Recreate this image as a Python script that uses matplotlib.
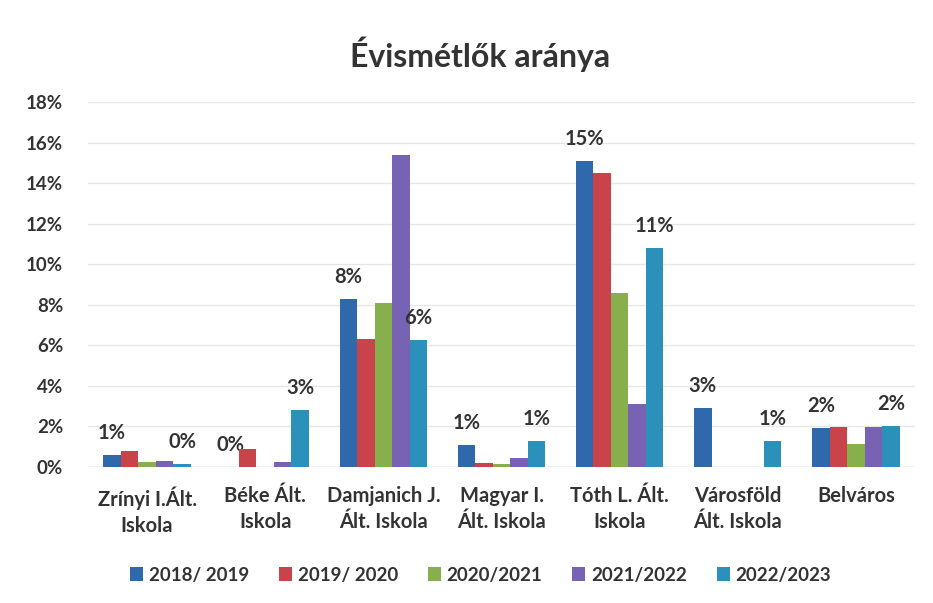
import numpy as np
import matplotlib
matplotlib.use('Agg')
import matplotlib.pyplot as plt
from matplotlib.ticker import FuncFormatter

plt.rcParams['font.family'] = ['Lato', 'DejaVu Sans']

iskolak = ['Zrínyi I.Ált.\nIskola', 'Béke Ált.\nIskola', 'Damjanich J.\nÁlt. Iskola',
           'Magyar I.\nÁlt. Iskola', 'Tóth L. Ált.\nIskola', 'Városföld\nÁlt. Iskola', 'Belváros']
evek = ['2018/ 2019', '2019/ 2020', '2020/2021', '2021/2022', '2022/2023']

# évismétlők aránya (%) tanévenként
ev_2018 = [0.6, 0.0, 8.3, 1.1, 15.1, 2.9, 1.9]
ev_2019 = [0.8, 0.9, 6.3, 0.2, 14.5, 0.0, 1.95]
ev_2020 = [0.25, 0.0, 8.1, 0.15, 8.6, 0.0, 1.15]
ev_2021 = [0.3, 0.25, 15.4, 0.45, 3.1, 0.0, 1.95]
ev_2022 = [0.15, 2.8, 6.25, 1.3, 10.8, 1.3, 2.0]

adatok = [ev_2018, ev_2019, ev_2020, ev_2021, ev_2022]
szinek = ['#2f69ab', '#c9434b', '#87b04c', '#7862b4', '#2b90ba']
cimkezett = [0, 4]  # csak az első és az utolsó év kap feliratot

fig = plt.figure(figsize=(9.33, 6.03), dpi=100)
ax = fig.add_axes([88 / 933, 1 - 467 / 603, 827 / 933, 365 / 603])

x = np.arange(len(iskolak))
w = 0.148
for i, (ertekek, szin) in enumerate(zip(adatok, szinek)):
    pos = x + (i - 2) * w
    ax.bar(pos, ertekek, width=w, color=szin, label=evek[i], zorder=3)
    if i in cimkezett:
        for p, v in zip(pos, ertekek):
            ax.annotate(f'{v:.0f}%', (p, v), xytext=(0, 12), textcoords='offset pixels',
                        ha='center', va='bottom', fontsize=14.5, fontweight='bold',
                        color='#333333')

ax.set_xlim(-0.5, len(iskolak) - 0.5)
ax.set_ylim(0, 18)
ax.set_yticks(np.arange(0, 19, 2))
ax.yaxis.set_major_formatter(FuncFormatter(lambda v, _: f'{v:.0f}%'))
ax.set_xticks(x)
ax.set_xticklabels(iskolak, linespacing=1.35)
ax.grid(axis='y', color='#e6e6e6', linewidth=1, zorder=0)
for s in ax.spines.values():
    s.set_visible(False)
ax.axhline(0, color='#d9d9d9', linewidth=1, zorder=2)
ax.tick_params(length=0, colors='#333333')
ax.tick_params(axis='x', labelsize=14.5, pad=14)
ax.tick_params(axis='y', labelsize=13.5, pad=18)
for t in ax.get_xticklabels() + ax.get_yticklabels():
    t.set_fontweight('bold')

fig.text(0.515, 1 - 54 / 603, 'Évismétlők aránya', ha='center', va='center',
         fontsize=23, fontweight='bold', color='#333333')

fig.legend(loc='center', bbox_to_anchor=(0.515, 1 - 575 / 603), ncol=5, frameon=False,
           prop={'size': 13.5, 'weight': 'bold'}, handlelength=0.7, handleheight=0.7,
           handletextpad=0.3, columnspacing=1.6, labelcolor='#333333')

fig.savefig('out.png', dpi=100)
